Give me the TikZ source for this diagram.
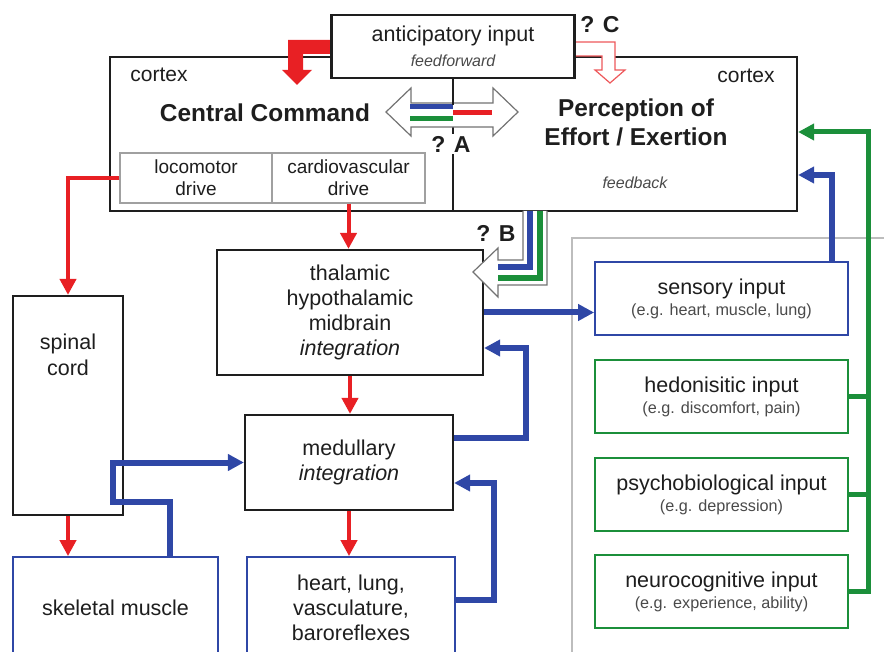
\documentclass[tikz,border=0pt]{standalone}
\usepackage{fontspec}
\setmainfont{Liberation Sans}
\usetikzlibrary{arrows.meta,calc}
\definecolor{cmdred}{HTML}{E82024}
\definecolor{fbblue}{HTML}{2F47A6}
\definecolor{psygreen}{HTML}{1B8F3A}
\definecolor{ink}{HTML}{1E1E1E}
\definecolor{subink}{HTML}{4A4A4A}
\definecolor{drivegray}{HTML}{A0A0A0}
\definecolor{framegray}{HTML}{BDBDBD}
\newcommand\egtext[1]{{\fontsize{8.1}{9}\selectfont\color{subink}#1}}

\tikzset{
  blk/.style={draw=ink, line width=1.1pt, fill=white, align=center, text=ink,
    font=\fontsize{10.75}{12.5}\selectfont, inner sep=0pt},
  bluebox/.style={blk, draw=fbblue, line width=0.9pt},
  inbox/.style={blk, line width=0.9pt, minimum width=126.5pt, minimum height=36.5pt,
    font=\fontsize{10.75}{10.5}\selectfont},
  drivebox/.style={blk, draw=drivegray, line width=0.6pt, minimum width=76pt,
    minimum height=25pt, font=\fontsize{9.5}{11}\selectfont},
  redarr/.style={draw=cmdred, line width=2pt, -{Triangle[length=8pt,width=8pt]}},
  bluearr/.style={draw=fbblue, line width=3pt, -{Triangle[length=8pt,width=8pt]}},
  greenarr/.style={draw=psygreen, line width=2.5pt, -{Triangle[length=8pt,width=8pt]}},
  qlabel/.style={font=\bfseries\fontsize{11.5}{12}\selectfont, text=ink, fill=white, inner sep=1pt},
  hollow/.style={fill=white, draw=gray!90!black, line width=0.6pt},
}

\begin{document}
\begin{tikzpicture}[x=0.5pt,y=-0.5pt]
\useasboundingbox (0,0) rectangle (884,652);

% right hand frame
\draw[framegray, line width=0.6pt] (890,238) -| (572,660);

% cortex
\node[blk, minimum width=343.5pt, minimum height=77pt] (cortex) at (453.5,134) {};
\draw[ink, line width=1.1pt] (453,57) -- (453,211);
\node[drivebox] (loco) at (196,178) {locomotor\\drive};
\node[drivebox, minimum width=76.5pt] (cardio) at (348.5,178) {cardiovascular\\drive};

% feedforward arrows
\fill[cmdred] (340,40) -- (288,40) -- (288,70) -- (282,70) -- (297,85) -- (312,70)
  -- (303,70) -- (303,54) -- (340,54) -- cycle;
\draw[hollow, draw=cmdred!75] (570,42) -- (615,42) -- (615,70) -- (625,70) -- (610,83)
  -- (595,70) -- (602,70) -- (602,56) -- (570,56);
\node[blk, minimum width=121.5pt, minimum height=31.5pt] (antic) at (453,46.5)
  {anticipatory input\\{\fontsize{8}{9}\itshape\selectfont\color{subink}feedforward}};

% ? A
\draw[hollow] (386,112) -- (411,88) -- (411,103) -- (493,103) -- (493,88) -- (518,112)
  -- (493,136) -- (493,127) -- (411,127) -- (411,136) -- cycle;
\draw[fbblue, line width=2.5pt] (410,107) -- (453,107);
\draw[psygreen, line width=2.5pt] (410,119) -- (453,119);
\draw[cmdred, line width=2.5pt] (453,113) -- (492,113);
\draw[ink, line width=1.1pt] (antic.south) -- (453,105);
\node[qlabel] (qa) at (451,144) {? A};
\node[qlabel, fill=none] (qc) at (600,25) {? C};

\node[font=\bfseries\fontsize{12.2}{14}\selectfont, text=ink] (cc) at (265,113) {Central Command};
\node[font=\bfseries\fontsize{12.2}{14.5}\selectfont, text=ink, align=center] (poe) at (636,122.5)
  {Perception of\\Effort / Exertion};
\node[font=\fontsize{10.5}{12}\selectfont, text=ink] (cxl) at (159,75) {cortex};
\node[font=\fontsize{10.5}{12}\selectfont, text=ink] (cxr) at (746,76) {cortex};
\node[font=\fontsize{8}{9}\itshape\selectfont, text=subink] (fb) at (635,183) {feedback};

% lower blocks
\node[blk, minimum width=133pt, minimum height=62.5pt] (thal) at (350,312.5)
  {thalamic\\hypothalamic\\midbrain\\\textit{integration}};
\node[blk, minimum width=104pt, minimum height=47.5pt] (med) at (349,462.5)
  {medullary\\\textit{integration}};
\node[bluebox, minimum width=104pt, minimum height=50.5pt] (heart) at (351,607.5)
  {heart, lung,\\vasculature,\\baroreflexes};
\node[bluebox, minimum width=102.5pt, minimum height=50.5pt] (skel) at (115.5,607.5)
  {skeletal muscle};
\node[blk, minimum width=55pt, minimum height=109.5pt] (spinal) at (68,405.5) {};
\node[align=center, text=ink, font=\fontsize{10.75}{13}\selectfont] (spinaltxt)
  at ([yshift=-30pt]spinal.north) {spinal\\cord};

% ? B
\draw[hollow] (523,211) -- (523,260) -- (498,260) -- (498,248) -- (473,272) -- (498,297)
  -- (498,285) -- (547,285) -- (547,211);
\draw[fbblue, line width=3pt] (530,211) |- (498,267);
\draw[psygreen, line width=3pt] (540,211) |- (498,278);
\node[qlabel, fill=none] (qb) at (496,233) {? B};

% inputs
\node[inbox, draw=fbblue] (sensory) at (721.5,298.5)
  {sensory input\\\egtext{(e.g. heart, muscle, lung)}};
\node[inbox, draw=psygreen] (hedon) at (721.5,396.5)
  {hedonisitic input\\\egtext{(e.g. discomfort, pain)}};
\node[inbox, draw=psygreen] (psycho) at (721.5,494.5)
  {psychobiological input\\\egtext{(e.g. depression)}};
\node[inbox, draw=psygreen] (neuro) at (721.5,591.5)
  {neurocognitive input\\\egtext{(e.g. experience, ability)}};

% efferent
\draw[redarr] (loco.west) -| (spinal.north);
\draw[redarr] (cardio.south) -- (cardio.south |- thal.north);
\draw[redarr] (thal.south) -- (thal.south |- med.north);
\draw[redarr] (med.south) -- (med.south |- heart.north);
\draw[redarr] (spinal.south) -- (spinal.south |- skel.north);

% afferent
\draw[bluearr] ([xshift=27.25pt]skel.north) -- ++(0,-54) -- ++(-57,0) |- (med.west);
\draw[bluearr] ([yshift=4pt]heart.east) -- ++(38,0) |- ([yshift=-10.25pt]med.east);
\draw[bluearr] ([yshift=12.25pt]med.east) -- ++(72,0) |- ([yshift=-17.75pt]thal.east);
\draw[bluearr] (thal.east) -- (thal.east -| sensory.west);
\draw[bluearr] ([xshift=55.25pt]sensory.north) |- ([yshift=-20.5pt]cortex.east);
\draw[greenarr] (neuro.east) -- ++(20,0) coordinate (gtrunk) |- ([yshift=1pt]cortex.east);
\draw[psygreen, line width=2.5pt] (hedon.east) -- (hedon.east -| gtrunk);
\draw[psygreen, line width=2.5pt] (psycho.east) -- (psycho.east -| gtrunk);
\end{tikzpicture}
\end{document}
